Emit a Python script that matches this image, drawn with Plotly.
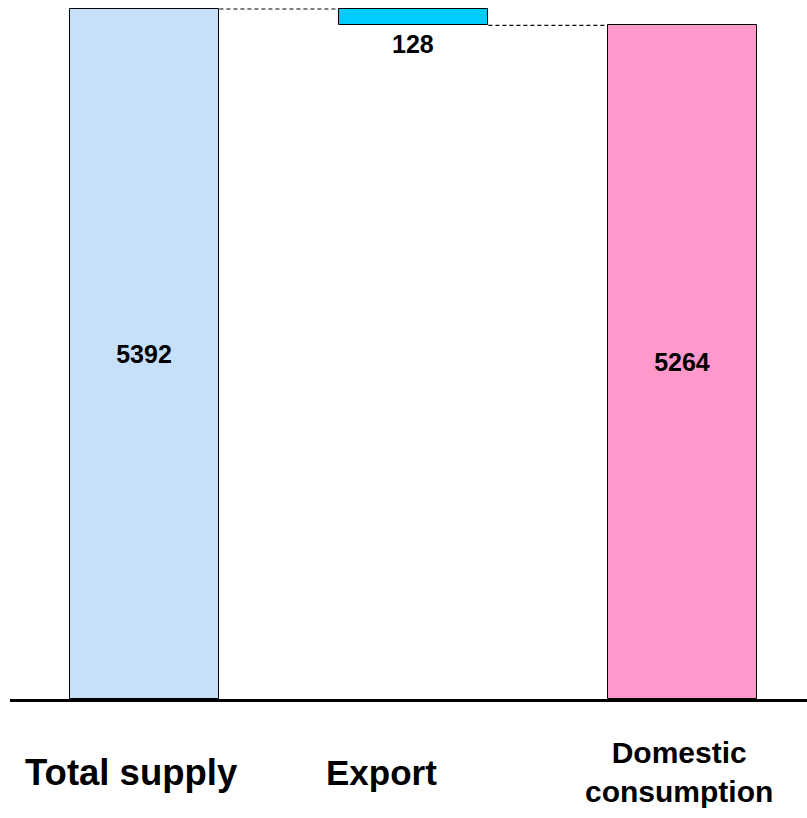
import plotly.graph_objects as go

categories = ["Total supply", "Export", "Domestic consumption"]
category_labels = ["Total supply", "Export", "Domestic<br>consumption"]
values = [5392, 128, 5264]
bar_colors = ["#C6E0FA", "#00CCFF", "#FF99CC"]

total_supply, export, domestic = values
bases = [0, total_supply - export, 0]
bar_width = 0.557
xpos = list(range(len(categories)))

fig = go.Figure()
fig.add_trace(go.Bar(
    x=xpos, y=values, base=bases, width=bar_width,
    marker=dict(color=bar_colors, line=dict(color="black", width=1)),
    text=[str(values[0]), "", str(values[2])],
    textposition="inside", insidetextanchor="middle", textangle=0,
    constraintext="none",
    textfont=dict(family="Liberation Sans, Arial", size=25, color="black", weight="bold"),
    hoverinfo="skip",
))

# export value label below the floating bar
fig.add_annotation(x=1, y=bases[1], yref="y", xref="x", text=str(export),
                   showarrow=False, yanchor="top", yshift=-3,
                   font=dict(family="Liberation Sans, Arial", size=25, color="black", weight="bold"))

# dashed connectors
fig.add_shape(type="line", xref="x", yref="y",
              x0=0 + bar_width / 2, x1=1 - bar_width / 2, y0=total_supply, y1=total_supply,
              line=dict(color="black", width=1.2, dash="4px,3px"))
fig.add_shape(type="line", xref="x", yref="y",
              x0=1 + bar_width / 2, x1=2 - bar_width / 2, y0=domestic, y1=domestic,
              line=dict(color="black", width=1.2, dash="4px,3px"))

# category labels
xshifts = [-13, -32, -3]
label_sizes = [36.5, 35, 30]
for i, lab in enumerate(category_labels):
    fig.add_annotation(x=i, y=0, xref="x", yref="y", text=lab, showarrow=False,
                       yanchor="middle", xanchor="center", yshift=-73, xshift=xshifts[i],
                       font=dict(family="Liberation Sans, Arial", size=label_sizes[i],
                                 color="black", weight="bold"))

fig.update_layout(
    width=807, height=818,
    margin=dict(l=10, r=0, t=5, b=119),
    paper_bgcolor="white", plot_bgcolor="white",
    showlegend=False,
    bargap=0,
    xaxis=dict(range=[-0.5, 2.463], showticklabels=False, showgrid=False, zeroline=False,
               showline=True, linecolor="black", linewidth=3, ticks=""),
    yaxis=dict(range=[0, 5423.3], visible=False, showgrid=False, zeroline=False),
)

fig.write_html("out.html", config={"displayModeBar": False},
               post_script="document.body.style.margin='0';")
